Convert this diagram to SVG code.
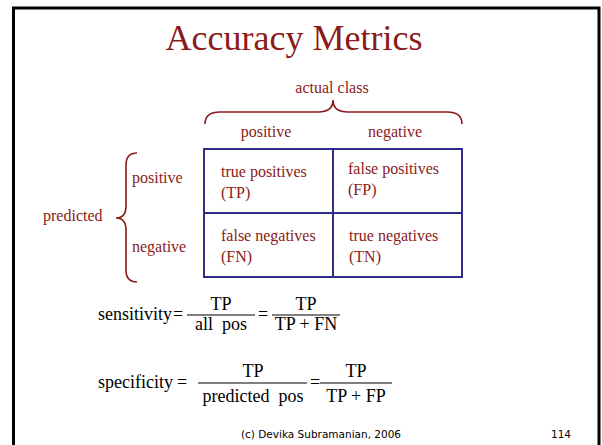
<svg xmlns="http://www.w3.org/2000/svg" width="602" height="445" viewBox="0 0 602 445">
<style>
.r{font-family:"Liberation Serif","Times New Roman",serif;fill:#8b1a1a}
.t16{font-size:16px}
.m{font-family:"Liberation Serif","Times New Roman",serif;fill:#000;font-size:18px}
.br{fill:none;stroke:#8b1a1a;stroke-width:1.6}
.cell{fill:none;stroke:#2e2e88;stroke-width:2}
.bar{stroke:#000;stroke-width:1.2}
</style>
<rect width="602" height="445" fill="#fff"/>
<rect x="13.5" y="8" width="585.5" height="450" fill="none" stroke="#000" stroke-width="3"/>
<g id="title"><text class="r" x="294" y="50" font-size="36" text-anchor="middle">Accuracy Metrics</text></g>
<g id="actual-class">
<text class="r t16" x="332" y="93" text-anchor="middle">actual class</text>
<path class="br" d="M205,124 Q205,112 220,112 L318,112 Q333,112 333,100 Q333,112 348,112 L447,112 Q462,112 462,124"/>
<text class="r t16" x="266" y="137" text-anchor="middle">positive</text>
<text class="r t16" x="395" y="137" text-anchor="middle">negative</text>
</g>
<g id="predicted">
<text class="r t16" x="43" y="221">predicted</text>
<path class="br" d="M137,153 Q126,153 126,165 L126,206 Q126,218 116,218 Q126,218 126,230 L126,270 Q126,282 137,282"/>
<text class="r t16" x="132" y="183">positive</text>
<text class="r t16" x="132" y="252">negative</text>
</g>
<g id="matrix">
<rect class="cell" x="204" y="149" width="258" height="128"/>
<line class="cell" x1="333" y1="149" x2="333" y2="277"/>
<line class="cell" x1="204" y1="213" x2="462" y2="213"/>
</g>
<g id="tp"><text class="r t16" x="221" y="177">true positives</text><text class="r t16" x="221" y="198">(TP)</text></g>
<g id="fp"><text class="r t16" x="348" y="174">false positives</text><text class="r t16" x="348" y="195">(FP)</text></g>
<g id="fn"><text class="r t16" x="221" y="241">false negatives</text><text class="r t16" x="221" y="262">(FN)</text></g>
<g id="tn"><text class="r t16" x="349" y="241">true negatives</text><text class="r t16" x="349" y="262">(TN)</text></g>
<g id="sensitivity">
<text class="m" x="98" y="320">sensitivity</text>
<text class="m" x="178" y="320" text-anchor="middle">=</text>
<text class="m" x="221" y="310" text-anchor="middle">TP</text>
<line class="bar" x1="187" y1="315" x2="255" y2="315"/>
<text class="m" x="221" y="330" text-anchor="middle">all&#160;&#160;pos</text>
<text class="m" x="263" y="320" text-anchor="middle">=</text>
<text class="m" x="306" y="310" text-anchor="middle">TP</text>
<line class="bar" x1="272" y1="315" x2="340" y2="315"/>
<text class="m" x="306" y="330" text-anchor="middle">TP + FN</text>
</g>
<g id="specificity">
<text class="m" x="98" y="388">specificity</text>
<text class="m" x="182" y="388" text-anchor="middle">=</text>
<text class="m" x="253" y="377" text-anchor="middle">TP</text>
<line class="bar" x1="198" y1="383" x2="307" y2="383"/>
<text class="m" x="253" y="402" text-anchor="middle">predicted&#160;&#160;pos</text>
<text class="m" x="315" y="388" text-anchor="middle">=</text>
<text class="m" x="356" y="377" text-anchor="middle">TP</text>
<line class="bar" x1="320" y1="383" x2="392" y2="383"/>
<text class="m" x="356" y="402" text-anchor="middle">TP + FP</text>
</g>
<g id="footer">
<text x="321" y="438" font-family="DejaVu Sans,sans-serif" font-size="10.5" fill="#000" text-anchor="middle">(c) Devika Subramanian, 2006</text>
<text x="561" y="438" font-family="DejaVu Sans,sans-serif" font-size="10.5" fill="#000" text-anchor="middle">114</text>
</g>
</svg>
